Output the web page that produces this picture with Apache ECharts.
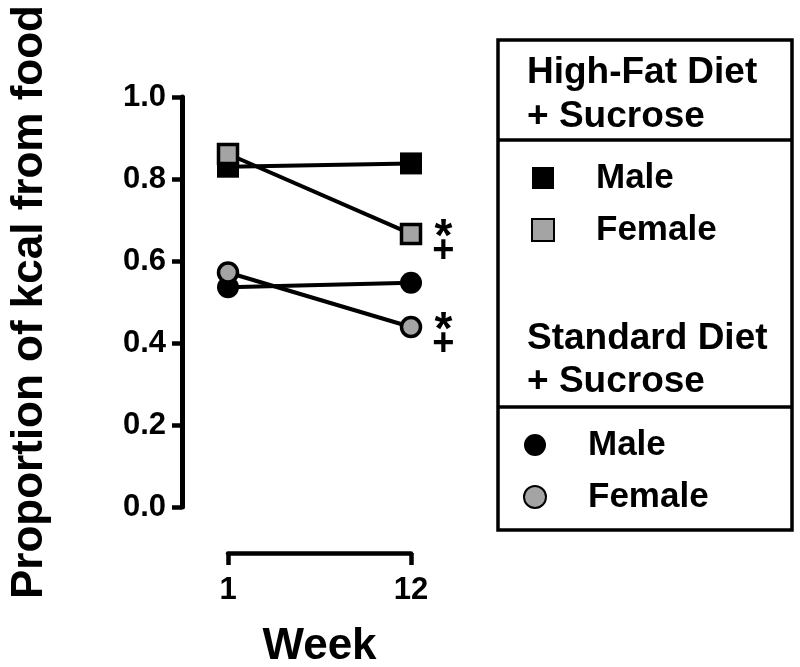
<!DOCTYPE html>
<html>
<head>
<meta charset="utf-8">
<script src="https://cdn.jsdelivr.net/npm/echarts@6/dist/echarts.min.js"></script>
<style>html,body{margin:0;padding:0;background:#fff}#c{width:800px;height:667px}</style>
</head>
<body>
<div id="c"></div>
<script>
const weeks = ['1', '12'];
const hfdMale = [0.830, 0.838];
const hfdFemale = [0.861, 0.666];
const sdMale = [0.536, 0.547];
const sdFemale = [0.572, 0.439];
const hfdFemaleMarks = ['', '*\n+'];
const sdFemaleMarks = ['', '*\n+'];
const yTickLabels = ['0.0', '0.2', '0.4', '0.6', '0.8', '1.0'];
const seriesNames = ['HFD Male', 'HFD Female', 'SD Male', 'SD Female'];
const legendLabels = { 'HFD Male': 'Male', 'HFD Female': 'Female', 'SD Male': 'Male', 'SD Female': 'Female' };
const yTitle = 'Proportion of kcal from food';
const xTitle = 'Week';
const groupTitles = ['High-Fat Diet', '+ Sucrose', 'Standard Diet', '+ Sucrose'];

const FONT = '"Liberation Sans", Arial, sans-serif';
const GRAY = '#a4a4a4';

function withMarks(values, marks) {
  return values.map((v, i) => {
    if (!marks[i]) return v;
    return {
      value: v,
      label: {
        show: true,
        position: 'right',
        distance: 10,
        offset: [0, 9],
        formatter: '{s|*}\n{p|+}',
        rich: {
          s: { fontSize: 46, fontWeight: 'bold', fontFamily: FONT, color: '#000', lineHeight: 18, align: 'center', padding: [13, 0, 0, 0] },
          p: { fontSize: 38, fontWeight: 'bold', fontFamily: FONT, color: '#000', lineHeight: 22, align: 'center' }
        }
      }
    };
  });
}

const lineStyle = { color: '#000', width: 4 };

const chart = echarts.init(document.getElementById('c'), null, { renderer: 'canvas' });
chart.setOption({
  animation: false,
  backgroundColor: '#fff',
  grid: { left: 228, right: 389, top: 97, bottom: 160, containLabel: false, outerBoundsMode: 'none' },
  xAxis: {
    type: 'category',
    data: weeks,
    boundaryGap: false,
    offset: 46,
    axisLine: { show: true, onZero: false, lineStyle: { color: '#000', width: 4.5 } },
    axisTick: { show: true, inside: false, length: 12, lineStyle: { color: '#000', width: 4.5 } },
    axisLabel: { margin: 22, fontSize: 31, fontWeight: 'bold', fontFamily: FONT, color: '#000' },
    splitLine: { show: false },
    name: xTitle,
    nameLocation: 'middle',
    nameGap: 72,
    nameTextStyle: { fontSize: 44, fontWeight: 'bold', fontFamily: FONT, color: '#000' }
  },
  yAxis: {
    type: 'value',
    min: 0,
    max: 1,
    interval: 0.2,
    offset: 46,
    axisLine: { show: true, onZero: false, lineStyle: { color: '#000', width: 5 } },
    axisTick: { show: true, inside: false, length: 10, lineStyle: { color: '#000', width: 4.5 } },
    axisLabel: {
      margin: 16, fontSize: 31, fontWeight: 'bold', fontFamily: FONT, color: '#000',
      formatter: v => yTickLabels[Math.round(v / 0.2)]
    },
    splitLine: { show: false },
    name: yTitle,
    nameLocation: 'middle',
    nameRotate: 90,
    nameGap: 130,
    nameTextStyle: { fontSize: 44, fontWeight: 'bold', fontFamily: FONT, color: '#000' }
  },
  legend: [
    {
      data: [seriesNames[0], seriesNames[1]],
      orient: 'vertical',
      left: 531, top: 158,
      padding: 0,
      itemWidth: 22, itemHeight: 22, itemGap: 12,
      icon: 'rect',
      selectedMode: false,
      formatter: n => legendLabels[n],
      textStyle: { fontSize: 35, fontWeight: 'bold', fontFamily: FONT, color: '#000', lineHeight: 40, padding: [0, 0, 0, 37] }
    },
    {
      data: [seriesNames[2], seriesNames[3]],
      orient: 'vertical',
      left: 523, top: 425,
      padding: 0,
      itemWidth: 22, itemHeight: 22, itemGap: 12,
      icon: 'circle',
      selectedMode: false,
      formatter: n => legendLabels[n],
      textStyle: { fontSize: 35, fontWeight: 'bold', fontFamily: FONT, color: '#000', lineHeight: 40, padding: [0, 0, 0, 37] }
    }
  ],
  graphic: [
    { type: 'rect', shape: { x: 498, y: 40, width: 294, height: 490 }, style: { fill: 'none', stroke: '#000', lineWidth: 3.5 }, silent: true },
    { type: 'line', shape: { x1: 498, y1: 140, x2: 792, y2: 140 }, style: { stroke: '#000', lineWidth: 3.5 }, silent: true },
    { type: 'line', shape: { x1: 498, y1: 407, x2: 792, y2: 407 }, style: { stroke: '#000', lineWidth: 3.5 }, silent: true },
    { type: 'text', x: 527, y: 73, style: { text: groupTitles[0], font: 'bold 37px ' + FONT, fill: '#000', verticalAlign: 'middle', align: 'left' }, silent: true },
    { type: 'text', x: 527, y: 117, style: { text: groupTitles[1], font: 'bold 37px ' + FONT, fill: '#000', verticalAlign: 'middle', align: 'left' }, silent: true },
    { type: 'text', x: 527, y: 339, style: { text: groupTitles[2], font: 'bold 37px ' + FONT, fill: '#000', verticalAlign: 'middle', align: 'left' }, silent: true },
    { type: 'text', x: 527, y: 382, style: { text: groupTitles[3], font: 'bold 37px ' + FONT, fill: '#000', verticalAlign: 'middle', align: 'left' }, silent: true }
  ],
  series: [
    {
      name: seriesNames[0], type: 'line', data: hfdMale,
      symbol: 'rect', symbolSize: 22,
      itemStyle: { color: '#000', borderColor: '#000', borderWidth: 0 },
      lineStyle: lineStyle, z: 2
    },
    {
      name: seriesNames[1], type: 'line', data: withMarks(hfdFemale, hfdFemaleMarks),
      symbol: 'rect', symbolSize: 19,
      itemStyle: { color: GRAY, borderColor: '#000', borderWidth: 3.5 },
      lineStyle: lineStyle, z: 3
    },
    {
      name: seriesNames[2], type: 'line', data: sdMale,
      symbol: 'circle', symbolSize: 22,
      itemStyle: { color: '#000', borderColor: '#000', borderWidth: 0 },
      lineStyle: lineStyle, z: 2
    },
    {
      name: seriesNames[3], type: 'line', data: withMarks(sdFemale, sdFemaleMarks),
      symbol: 'circle', symbolSize: 19,
      itemStyle: { color: GRAY, borderColor: '#000', borderWidth: 3.5 },
      lineStyle: lineStyle, z: 3
    }
  ]
});
</script>
</body>
</html>
